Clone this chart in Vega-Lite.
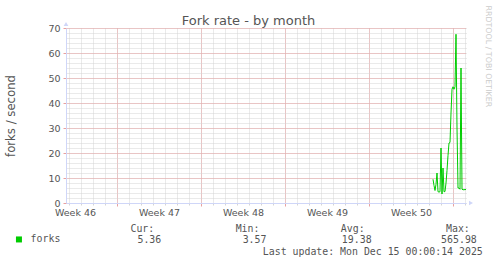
{
  "$schema": "https://vega.github.io/schema/vega-lite/v6.json",
  "width": 400,
  "height": 175,
  "autosize": {"type": "none"},
  "padding": {"left": 66, "top": 28, "right": 31, "bottom": 61},
  "background": "#ffffff",
  "config": {"view": {"stroke": null}, "font": "DejaVu Sans"},
  "title": {
    "text": "Fork rate - by month",
    "font": "DejaVu Sans",
    "fontSize": 13,
    "fontWeight": "normal",
    "color": "#555555",
    "anchor": "middle",
    "frame": "group",
    "baseline": "alphabetic",
    "offset": 0,
    "dx": -17.5,
    "dy": 33
  },
  "datasets": {
    "forks": [
      {"time": "2025-12-13T08:00:00Z", "forks": 9.5},
      {"time": "2025-12-13T10:00:00Z", "forks": 7},
      {"time": "2025-12-13T12:00:00Z", "forks": 5},
      {"time": "2025-12-13T14:00:00Z", "forks": 7.5},
      {"time": "2025-12-13T16:00:00Z", "forks": 12},
      {"time": "2025-12-13T18:00:00Z", "forks": 4.5},
      {"time": "2025-12-13T20:00:00Z", "forks": 4.4},
      {"time": "2025-12-13T22:00:00Z", "forks": 4.5},
      {"time": "2025-12-14T00:00:00Z", "forks": 22},
      {"time": "2025-12-14T02:00:00Z", "forks": 3.6},
      {"time": "2025-12-14T04:00:00Z", "forks": 14},
      {"time": "2025-12-14T06:00:00Z", "forks": 4.5},
      {"time": "2025-12-14T08:00:00Z", "forks": 4.6},
      {"time": "2025-12-14T10:00:00Z", "forks": 8},
      {"time": "2025-12-14T12:00:00Z", "forks": 13},
      {"time": "2025-12-14T14:00:00Z", "forks": 19},
      {"time": "2025-12-14T16:00:00Z", "forks": 24},
      {"time": "2025-12-14T18:00:00Z", "forks": 24.2},
      {"time": "2025-12-14T20:00:00Z", "forks": 36},
      {"time": "2025-12-14T22:00:00Z", "forks": 45.5},
      {"time": "2025-12-15T00:00:00Z", "forks": 46.5},
      {"time": "2025-12-15T02:00:00Z", "forks": 45.5},
      {"time": "2025-12-15T04:00:00Z", "forks": 46.5},
      {"time": "2025-12-15T06:00:00Z", "forks": 67.5},
      {"time": "2025-12-15T08:00:00Z", "forks": 30},
      {"time": "2025-12-15T10:00:00Z", "forks": 6},
      {"time": "2025-12-15T12:00:00Z", "forks": 6},
      {"time": "2025-12-15T14:00:00Z", "forks": 5.5},
      {"time": "2025-12-15T16:00:00Z", "forks": 54},
      {"time": "2025-12-15T18:00:00Z", "forks": 5.5},
      {"time": "2025-12-15T20:00:00Z", "forks": 5.3},
      {"time": "2025-12-15T22:00:00Z", "forks": 5.3},
      {"time": "2025-12-16T00:00:00Z", "forks": 5.4},
      {"time": "2025-12-16T02:00:00Z", "forks": 5.36}
    ],
    "stats": [
      {"stat": "Cur", "head": "Cur:", "val": "5.36"},
      {"stat": "Min", "head": "Min:", "val": "3.57"},
      {"stat": "Avg", "head": "Avg:", "val": "19.38"},
      {"stat": "Max", "head": "Max:", "val": "565.98"}
    ],
    "xarrow": [{"time": "2025-12-16T12:00:00Z", "forks": 0}],
    "yarrow": [{"time": "2025-11-12T18:00:00Z", "forks": 71.6}]
  },
  "layer": [
    {
      "layer": [
        {
          "data": {"name": "forks"},
          "mark": {"type": "point", "opacity": 0},
          "encoding": {
            "x": {
              "field": "time", "type": "temporal",
              "axis": {
                "orient": "bottom", "grid": true, "gridColor": "#d4d4d4", "gridDash": [1, 1],
                "ticks": true, "tickSize": 2, "tickColor": "#d4d4d4",
                "labels": false, "domain": false, "title": null,
                "tickCount": {"interval": "day", "step": 1}
              }
            },
            "y": {
              "field": "forks", "type": "quantitative",
              "axis": {
                "orient": "right", "grid": true, "gridColor": "#d4d4d4", "gridDash": [1, 1],
                "ticks": false, "labels": false, "domain": false,
                "values": [0,2,4,6,8,10,12,14,16,18,20,22,24,26,28,30,32,34,36,38,40,42,44,46,48,50,52,54,56,58,60,62,64,66,68,70],
                "title": "RRDTOOL / TOBI OETIKER",
                "titleFont": "DejaVu Sans", "titleFontSize": 7.9, "titleFontWeight": "normal",
                "titleColor": "#cccccc", "titleAngle": 90, "titleAlign": "left", "titleBaseline": "middle",
                "titleX": 21.8, "titleY": -23
              }
            }
          }
        },
        {
          "data": {"name": "forks"},
          "mark": {"type": "point", "opacity": 0},
          "encoding": {
            "x": {
              "field": "time", "type": "temporal",
              "axis": {
                "orient": "bottom", "grid": true, "gridColor": "#e8a0a0", "gridDash": [1, 1],
                "ticks": true, "tickSize": 3, "tickColor": "#e8a0a0",
                "labels": false, "domain": false, "title": null,
                "values": [
                  {"year": 2025, "month": 11, "date": 17, "utc": true},
                  {"year": 2025, "month": 11, "date": 24, "utc": true},
                  {"year": 2025, "month": 12, "date": 1, "utc": true},
                  {"year": 2025, "month": 12, "date": 8, "utc": true},
                  {"year": 2025, "month": 12, "date": 15, "utc": true}
                ]
              }
            },
            "y": {
              "field": "forks", "type": "quantitative",
              "axis": {
                "orient": "left", "grid": true, "gridColor": "#e8a0a0", "gridDash": [1, 1],
                "ticks": true, "tickSize": 3, "tickColor": "#e8a0a0",
                "labels": false, "domain": false, "title": null,
                "values": [0,10,20,30,40,50,60,70]
              }
            }
          }
        },
        {
          "data": {"name": "forks"},
          "mark": {"type": "line", "strokeWidth": 1, "interpolate": "linear"},
          "encoding": {
            "x": {
              "field": "time", "type": "temporal",
              "scale": {
                "type": "utc",
                "domain": [
                  {"year": 2025, "month": 11, "date": 12, "hours": 18, "utc": true},
                  {"year": 2025, "month": 12, "date": 16, "hours": 2, "utc": true}
                ]
              },
              "axis": {
                "orient": "bottom", "grid": false, "ticks": false,
                "domain": true, "domainColor": "#cfd6f8", "domainWidth": 1,
                "labels": true, "labelFont": "DejaVu Sans", "labelFontSize": 9.5, "labelColor": "#555555",
                "labelBaseline": "alphabetic", "labelPadding": 12, "labelFlush": false, "labelOverlap": false, "labelBound": false,
                "values": [
                  {"year": 2025, "month": 11, "date": 13, "hours": 12, "utc": true},
                  {"year": 2025, "month": 11, "date": 20, "hours": 12, "utc": true},
                  {"year": 2025, "month": 11, "date": 27, "hours": 12, "utc": true},
                  {"year": 2025, "month": 12, "date": 4, "hours": 12, "utc": true},
                  {"year": 2025, "month": 12, "date": 11, "hours": 12, "utc": true}
                ],
                "labelExpr": "'Week ' + utcFormat(datum.value, '%V')",
                "title": "Last update: Mon Dec 15 00:00:14 2025",
                "titleFont": "DejaVu Sans Mono", "titleFontSize": 9.9, "titleFontWeight": "normal",
                "titleColor": "#555555", "titleAlign": "right", "titleBaseline": "alphabetic",
                "titleX": 416.3, "titleY": 51
              }
            },
            "y": {
              "field": "forks", "type": "quantitative",
              "scale": {"domain": [0, 70], "nice": false},
              "axis": {
                "orient": "left", "grid": false, "ticks": false,
                "domain": true, "domainColor": "#cfd6f8", "domainWidth": 1,
                "labels": true, "labelFont": "DejaVu Sans", "labelFontSize": 9.5, "labelColor": "#555555",
                "labelPadding": 6, "labelBaseline": "middle",
                "values": [0,10,20,30,40,50,60,70],
                "title": "forks / second",
                "titleFont": "DejaVu Sans", "titleFontSize": 11.7, "titleFontWeight": "normal",
                "titleColor": "#555555", "titleAngle": -90, "titleAlign": "center", "titleBaseline": "middle",
                "titleX": -55.5, "titleY": 87.5
              }
            },
            "color": {
              "datum": "forks", "type": "nominal",
              "scale": {"range": ["#00cc00"]},
              "legend": {
                "title": null, "orient": "none", "legendX": -52, "legendY": 206.5, "padding": 0,
                "symbolType": "square", "symbolSize": 36, "symbolFillColor": "#00cc00",
                "symbolStrokeColor": "#00cc00", "symbolStrokeWidth": 0,
                "labelFont": "DejaVu Sans Mono", "labelFontSize": 9.9, "labelColor": "#555555", "labelOffset": 6.7
              }
            }
          }
        },
        {
          "data": {"name": "xarrow"},
          "mark": {"type": "point", "shape": "triangle-right", "filled": true, "color": "#cfd6f8", "size": 22, "opacity": 1},
          "encoding": {
            "x": {"field": "time", "type": "temporal", "axis": null},
            "y": {"field": "forks", "type": "quantitative", "axis": null}
          }
        },
        {
          "data": {"name": "yarrow"},
          "mark": {"type": "point", "shape": "triangle-up", "filled": true, "color": "#cfd6f8", "size": 22, "opacity": 1},
          "encoding": {
            "x": {"field": "time", "type": "temporal", "axis": null},
            "y": {"field": "forks", "type": "quantitative", "axis": null}
          }
        }
      ],
      "resolve": {"axis": {"x": "independent", "y": "independent"}}
    },
    {
      "data": {"name": "stats"},
      "mark": {"type": "text", "align": "right", "baseline": "alphabetic", "font": "DejaVu Sans Mono", "fontSize": 9.9, "color": "#555555", "dx": 46, "dy": 116.2},
      "encoding": {
        "x": {"field": "stat", "type": "ordinal", "sort": null, "scale": {"type": "point", "domain": ["Cur", "Min", "Avg", "Max"], "padding": 0.4015}, "axis": null},
        "text": {"field": "head"}
      }
    },
    {
      "data": {"name": "stats"},
      "mark": {"type": "text", "align": "right", "baseline": "alphabetic", "font": "DejaVu Sans Mono", "fontSize": 9.9, "color": "#555555", "dx": 53, "dy": 127.8},
      "encoding": {
        "x": {"field": "stat", "type": "ordinal", "sort": null, "scale": {"type": "point", "domain": ["Cur", "Min", "Avg", "Max"], "padding": 0.4015}, "axis": null},
        "text": {"field": "val"}
      }
    }
  ],
  "resolve": {"scale": {"x": "independent"}, "axis": {"x": "independent", "y": "independent"}}
}
